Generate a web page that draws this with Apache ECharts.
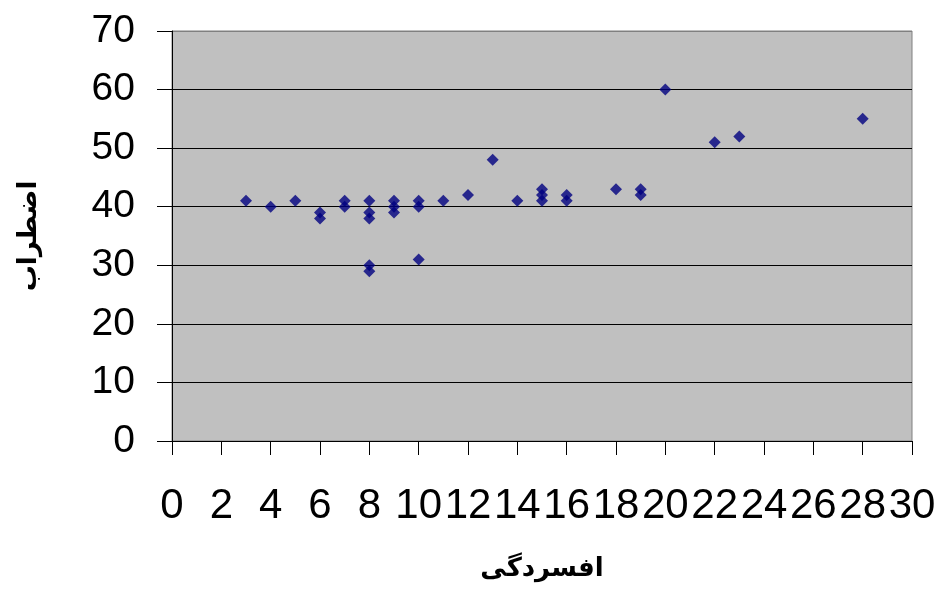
<!DOCTYPE html>
<html>
<head>
<meta charset="utf-8">
<script src="https://cdn.jsdelivr.net/npm/echarts@6/dist/echarts.min.js"></script>
<style>
  html, body { margin: 0; padding: 0; background: #fff; }
  #chart { width: 940px; height: 595px; }
</style>
</head>
<body>
<div id="chart"></div>
<script>
// افسردگی (x) و اضطراب (y)
var depression = [3, 4, 5, 6, 6, 7, 7, 8, 8, 8, 8, 8, 9, 9, 9, 10, 10, 10, 11, 12, 13, 14, 15, 15, 15, 16, 16, 18, 19, 19, 20, 22, 23, 28];
var anxiety =    [41, 40, 41, 39, 38, 41, 40, 41, 39, 38, 30, 29, 41, 40, 39, 41, 40, 31, 41, 42, 48, 41, 43, 42, 41, 42, 41, 43, 43, 42, 60, 51, 52, 55];

var xName = "افسردگی";
var yName = "اضطراب";

var points = depression.map(function (d, i) { return [d, anxiety[i]]; });

var chart = echarts.init(document.getElementById("chart"));

var option = {
  animation: false,
  grid: {
    left: 172,
    right: 28,
    top: 31,
    bottom: 154,
    show: true,
    backgroundColor: "#c0c0c0",
    borderColor: "#808080",
    borderWidth: 1
  },
  xAxis: {
    type: "value",
    min: 0,
    max: 30,
    interval: 2,
    name: xName,
    nameLocation: "middle",
    nameGap: 115,
    nameTextStyle: { fontFamily: "DejaVu Sans", fontWeight: "bold", fontSize: 26, color: "#000" },
    axisLine: { show: true, onZero: false, lineStyle: { color: "#000", width: 1 } },
    axisTick: { show: true, inside: false, length: 14, lineStyle: { color: "#000" } },
    axisLabel: { margin: 44, fontFamily: "Liberation Sans", fontSize: 42, color: "#000" },
    splitLine: { show: false }
  },
  yAxis: {
    type: "value",
    min: 0,
    max: 70,
    interval: 10,
    name: yName,
    nameLocation: "middle",
    nameGap: 130,
    nameTextStyle: { fontFamily: "DejaVu Sans", fontWeight: "bold", fontSize: 26, color: "#000" },
    axisLine: { show: true, onZero: false, lineStyle: { color: "#000", width: 1 } },
    axisTick: { show: true, inside: false, length: 15, lineStyle: { color: "#000" } },
    axisLabel: { margin: 37, fontFamily: "Liberation Sans", fontSize: 39, color: "#000" },
    splitLine: {
      show: true,
      lineStyle: { color: ["#000", "#000", "#000", "#000", "#000", "#000", "#000", "#808080"], width: 1 }
    }
  },
  series: [
    {
      type: "scatter",
      symbol: "diamond",
      symbolSize: 12,
      itemStyle: { color: "#000080" },
      data: points
    }
  ]
};

chart.setOption(option);
</script>
</body>
</html>
